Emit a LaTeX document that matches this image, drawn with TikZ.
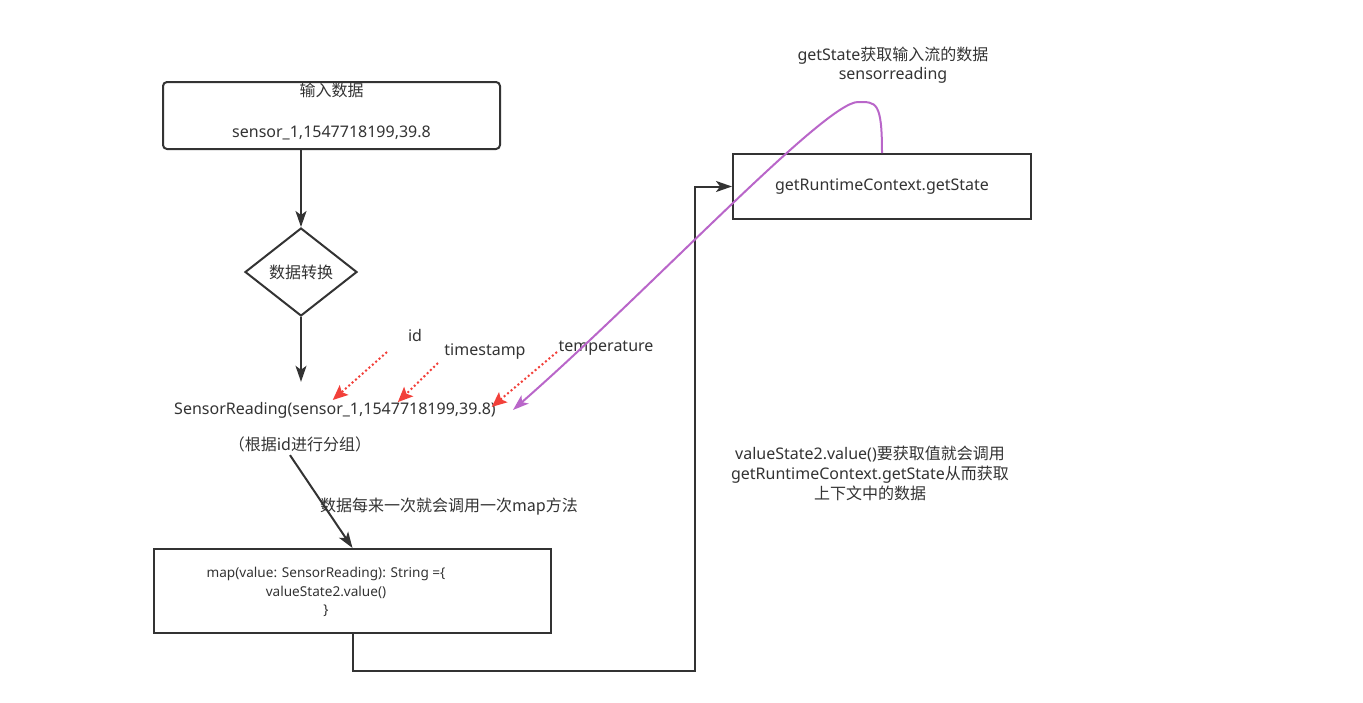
\documentclass[tikz,border=0pt]{standalone}
\usepackage{fontspec}
\setmainfont{Noto Sans}
\newfontfamily\cjk{Noto Sans CJK SC}
\usetikzlibrary{arrows.meta,shapes.geometric}
\definecolor{ink}{HTML}{333333}
\definecolor{hintred}{HTML}{F2403A}
\definecolor{callpurple}{HTML}{B966C9}
\tikzstyle{plain}=[text=ink,align=center,font=\fontsize{16pt}{19pt}\selectfont]
\tikzstyle{box}=[plain,draw=ink,line width=2pt,inner sep=0pt]
\tikzstyle{decision}=[plain,diamond,draw=ink,line width=2pt,inner sep=0pt,minimum width=112pt,minimum height=88pt]
\tikzstyle{flow}=[draw=ink,line width=2pt,-{Stealth[length=16pt,width=11pt,inset=4pt]}]
\tikzstyle{hint}=[draw=hintred,line width=2pt,dash pattern=on 2pt off 2.5pt,-{Stealth[length=15pt,width=13pt,inset=3pt,sep=-3pt]}]
\tikzstyle{recall}=[draw=callpurple,line width=2pt,-{Stealth[length=16pt,width=11pt,inset=4pt]}]

\begin{document}
\begin{tikzpicture}[x=1pt,y=-1pt]
    \useasboundingbox (0,0) rectangle (1363,702);
    % First the flow on the left
    \node[box,rounded corners=4pt,minimum width=337pt,minimum height=67pt] (input) at (331.5,115.5) {{\cjk 输入数据}\\[22pt]sensor\_1,1547718199,39.8\rule[-11pt]{0pt}{0pt}};
    \node[decision] (convert) at (301,272) {\cjk 数据转换};
    \node[plain,inner xsep=17pt,minimum height=56pt] (reading) at (335,410) {SensorReading(sensor\_1,1547718199,39.8)};
    \node[plain] (group) at (300,444) {\cjk （根据id进行分组）};
    \node[plain] (eachcall) at (449,507) {\cjk 数据每来一次就会调用一次map方法};
    \node[box,minimum width=397pt,minimum height=84pt] (map) at (352.5,591) {};
    \node[plain,font=\fontsize{13.6pt}{18.5pt}\selectfont] (maptext) at (326,592) {map(value: SensorReading): String =\{\\valueState2.value()\\\}};
    % Then the state side
    \node[box,minimum width=298pt,minimum height=65pt] (state) at (882,186.5) {getRuntimeContext.getState};
    \node[plain] (fetch) at (893,65) {getState{\cjk 获取输入流的数据}\\sensorreading};
    \node[plain,font=\fontsize{16pt}{20pt}\selectfont] (explain) at (870,473) {valueState2.value(){\cjk 要获取值就会调用}\\getRuntimeContext.getState{\cjk 从而获取}\\{\cjk 上下文中的数据}};
    % Field names of the reading
    \foreach \pos/\name/\field in {{(415,335)/id/id}, {(485,352)/ts/timestamp}, {(606,348)/temp/temperature}}
       \node[plain] (\name) at \pos {\field};
    \coordinate (id-from) at (387,352);
    \coordinate (id-to) at (335,398);
    \coordinate (ts-from) at (438,363);
    \coordinate (ts-to) at (400,400);
    \coordinate (temp-from) at (557,352);
    \coordinate (temp-to) at (494,405);
    \foreach \name in {id, ts, temp}
       \path[hint] (\name-from) -- (\name-to);
    \coordinate (bend) at (695,671);
    \coordinate (peak) at (858,102);
    % Connect everything
    \path[flow] (input.south -| convert.north) -- (convert.north);
    \path[flow] (convert.south) -- (convert.south |- reading.north);
    \path[flow] ([xshift=-10pt]group.south) -- (map.north);
    \path[flow] (map.south) |- (bend) |- (state.west);
    \path[recall] (state.north) .. controls +(0,-52) and (876,102) .. (peak) .. controls (825,102) and (650,290) .. (reading.east);
\end{tikzpicture}
\end{document}
